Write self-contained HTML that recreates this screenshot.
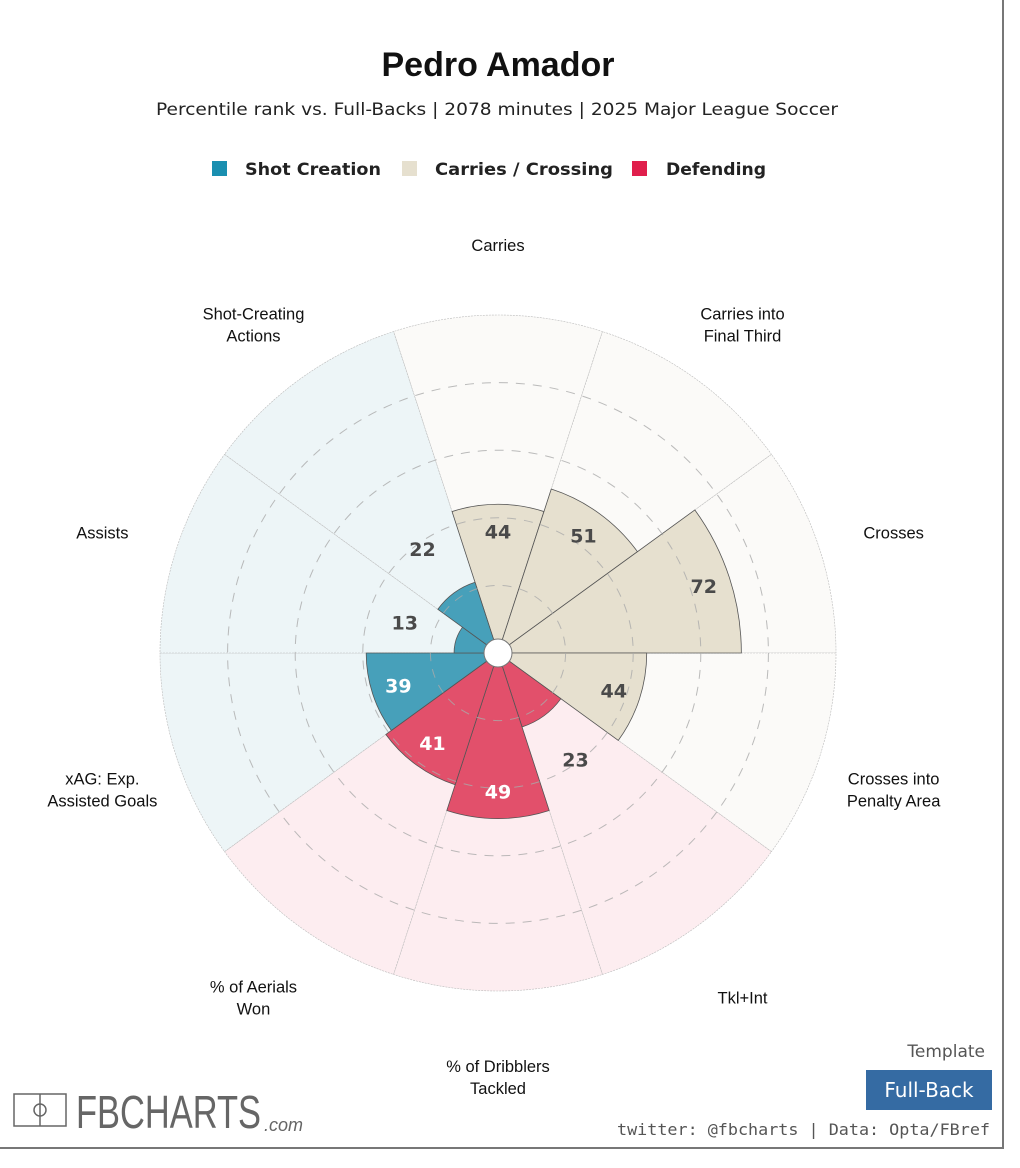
<!DOCTYPE html>
<html><head><meta charset="utf-8"><style>
body{margin:0;background:#fff;width:1020px;height:1168px;overflow:hidden;font-family:"Liberation Sans",sans-serif}
#frame{position:absolute;left:0;top:0;width:1002px;height:1147px;border-right:2px solid #777;border-bottom:2px solid #777}
</style></head><body>
<div id="frame"></div>
<svg id="chart" width="1020" height="1168" style="position:absolute;left:0;top:0">
<text x="498" y="76" text-anchor="middle" font-size="34" font-weight="bold" fill="#111">Pedro Amador</text>
<text x="156" y="115" font-size="17" fill="#222" font-family="DejaVu Sans, sans-serif" textLength="682" lengthAdjust="spacingAndGlyphs">Percentile rank vs. Full-Backs | 2078 minutes | 2025 Major League Soccer</text>
<g font-size="17" font-weight="bold" fill="#222" font-family="DejaVu Sans, sans-serif">
<rect x="212" y="161" width="15" height="15" fill="#1a8fb0"/>
<text x="245" y="175" textLength="136" lengthAdjust="spacingAndGlyphs">Shot Creation</text>
<rect x="402" y="161" width="15" height="15" fill="#e6e0cf"/>
<text x="435" y="175" textLength="178" lengthAdjust="spacingAndGlyphs">Carries / Crossing</text>
<rect x="632" y="161" width="15" height="15" fill="#e01f4c"/>
<text x="666" y="175" textLength="100" lengthAdjust="spacingAndGlyphs">Defending</text>
</g>
<g id="polar"></g>
<g fill="none" stroke="#666" stroke-width="1.5">
<rect x="14" y="1094" width="52" height="32"/><line x1="40" y1="1094" x2="40" y2="1126"/><circle cx="40" cy="1110" r="6"/>
</g>
<text x="76" y="1128" font-size="46" fill="#666" font-family="Liberation Sans Narrow, Liberation Sans, sans-serif" textLength="185" lengthAdjust="spacingAndGlyphs">FBCHARTS</text>
<text x="264" y="1131" font-size="18" font-style="italic" fill="#666">.com</text>
<text x="985" y="1057" text-anchor="end" font-size="17" fill="#555" font-family="DejaVu Sans, sans-serif">Template</text>
<rect x="866" y="1070" width="126" height="40" fill="#356ba3"/>
<text x="929" y="1097" text-anchor="middle" font-size="20" fill="#fff" font-family="DejaVu Sans, sans-serif">Full-Back</text>
<text x="617" y="1135" font-size="16" fill="#555" font-family="DejaVu Sans Mono, monospace" textLength="373" lengthAdjust="spacingAndGlyphs">twitter: @fbcharts | Data: Opta/FBref</text>
</svg>
<script>
const categories=["Carries","Carries into\nFinal Third","Crosses","Crosses into\nPenalty Area","Tkl+Int","% of Dribblers\nTackled","% of Aerials\nWon","xAG: Exp.\nAssisted Goals","Assists","Shot-Creating\nActions"];
const values=[44,51,72,44,23,49,41,39,13,22];
const groups=["carry","carry","carry","carry","def","def","def","shot","shot","shot"];
const ringTicks=[20,40,60,80];
const colors={shot:["#edf5f7","#47a0ba",true],carry:["#fbfaf8","#e6e0cf",false],def:["#fdedf0","#e2506b",true]};
const cx=498,cy=653,K=3.38,RMAX=100,HOLE=14;
const rScale=v=>v*K;
const ns="http://www.w3.org/2000/svg";
const g=document.getElementById('polar');
const n=categories.length,step=2*Math.PI/n;
function pt(r,a){return [cx+r*Math.sin(a),cy-r*Math.cos(a)];}
function wedge(r0,r1,a0,a1){const p1=pt(r1,a0),p2=pt(r1,a1),p3=pt(r0,a1),p4=pt(r0,a0);
return `M${p4}L${p1}A${r1},${r1} 0 0 1 ${p2}L${p3}A${r0},${r0} 0 0 0 ${p4}Z`;}
function mk(tag,attrs){const e=document.createElementNS(ns,tag);for(const k in attrs)e.setAttribute(k,attrs[k]);g.appendChild(e);return e;}
categories.forEach((c,i)=>{const a0=(i-0.5)*step,a1=(i+0.5)*step;
const e=mk('path',{d:wedge(0,rScale(RMAX),a0,a1),fill:colors[groups[i]][0],stroke:'#bbb','stroke-width':0.6,'stroke-dasharray':'2,1'});

});
categories.forEach((c,i)=>{const a0=(i-0.5)*step,a1=(i+0.5)*step;
const e=mk('path',{d:wedge(0,rScale(values[i]),a0,a1),fill:colors[groups[i]][1],stroke:'#555','stroke-width':0.8});

});
ringTicks.forEach(t=>{const e=mk('circle',{cx,cy,r:rScale(t),fill:'none',stroke:'#aaa','stroke-width':1,'stroke-dasharray':'9,8',opacity:0.8});

});
const hole=mk('circle',{cx,cy,r:HOLE,fill:'#fff',stroke:'#777','stroke-width':1});


categories.forEach((c,i)=>{const a=i*step,v=values[i];
const inside=v>=30;const r=rScale(inside?v-8:v+16);const [x,y]=pt(r,a);
const t=mk('text',{x,y:y+7,'text-anchor':'middle','font-size':19,'font-weight':'bold','font-family':'DejaVu Sans, sans-serif',fill:(inside&&colors[groups[i]][2])?'#fff':'#4a4a4a'});
t.textContent=v;


const [lx,ly0]=pt(416,a);const ly=ly0+8;const lines=c.split('\n');
const lt=mk('text',{x:lx,y:ly-(lines.length-1)*11+6,'text-anchor':'middle','font-size':16.5,fill:'#111'});


lines.forEach((l,j)=>{const ts=document.createElementNS(ns,'tspan');ts.setAttribute('x',lx);ts.setAttribute('dy',j?22:0);ts.textContent=l;lt.appendChild(ts);});});
</script>
</body></html>
